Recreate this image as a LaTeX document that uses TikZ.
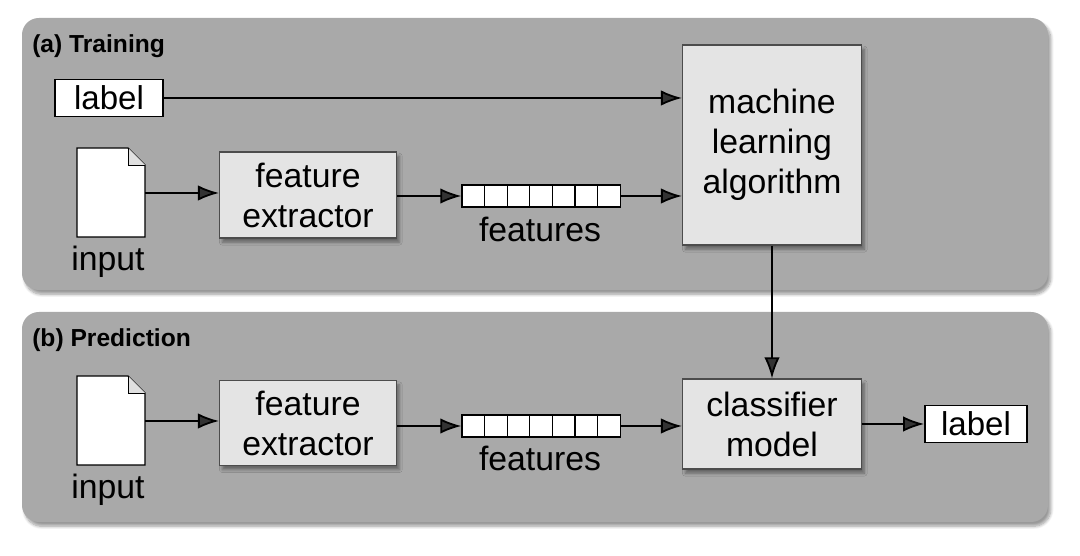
\documentclass[tikz,border=0pt]{standalone}
\usepackage{fontspec}
\setmainfont{Liberation Sans}
\usetikzlibrary{shadows.blur,arrows.meta}
\definecolor{panel}{HTML}{A9A9A9}
\definecolor{boxf}{HTML}{E4E4E4}
\begin{document}
\begin{tikzpicture}[x=0.025cm,y=-0.025cm,
 panel/.style={fill=panel,rounded corners=12pt,blur shadow={shadow xshift=2pt,shadow yshift=-3pt,shadow blur steps=8}},
 box/.style={draw=black!70,fill=boxf,line width=0.8pt,blur shadow={shadow xshift=2pt,shadow yshift=-3pt},inner sep=0pt,align=center,font=\fontsize{24}{28.5}\selectfont},
 lab/.style={draw=black,fill=white,line width=1.2pt,inner sep=0pt,font=\fontsize{23.5}{28}\selectfont},
 txt/.style={font=\fontsize{24}{28}\selectfont,inner sep=0pt},
 ttl/.style={font=\bfseries\fontsize{17.5}{20}\selectfont,anchor=west,inner sep=0pt},
 arr/.style={line width=1.3pt,-{Latex[length=15pt,width=11pt]}},
 cell/.style={draw=black,fill=white,line width=0.9pt,minimum width=0.565cm,minimum height=0.55cm,inner sep=0pt}]
\useasboundingbox (0,0) rectangle (1080,556);
\fill[panel] (22,18) rectangle (1048,290);
\fill[panel] (22,312) rectangle (1048,522);
\node[ttl] (ta) at (32,46) {(a) Training};
\node[ttl] (tb) at (32,340) {(b) Prediction};
\node[lab,minimum width=2.7cm,minimum height=0.92cm] (l1) at (109,98) {label};
\node[box,minimum width=4.47cm,minimum height=5cm] (ml) at (772,145) {machine\\learning\\algorithm};
\node[box,minimum width=4.42cm,minimum height=2.15cm] (fe1) at (308,195) {feature\\extractor};
\node[box,minimum width=4.47cm,minimum height=2.25cm] (cl) at (772,424) {classifier\\model};
\node[box,minimum width=4.42cm,minimum height=2.12cm] (fe2) at (308,423) {feature\\extractor};
\node[lab,minimum width=2.55cm,minimum height=0.92cm] (l2) at (976,424) {label};
\foreach \n/\y in {d1/148,d2/376}{
 \fill[white,draw=black,line width=0.8pt] (77,\y) -- (128,\y) -- (145,\y+17) -- (145,\y+89) -- (77,\y+89) -- cycle;
 \fill[black!12,draw=black,line width=0.6pt] (128,\y) -- (128,\y+17) -- (145,\y+17);
 \coordinate (\n) at (145,\y+45);
}
\node[txt] (in1) at (108,262) {input};
\node[txt] (in2) at (108,490) {input};
\foreach \n/\y in {f1/196,f2/426}{
 \foreach \i in {0,...,6}{\node[cell] (\n c\i) at (473.3+\i*22.6,\y) {};}
}
\node[txt] (fl1) at (540,229) {features};
\node[txt] (fl2) at (540,458) {features};
\draw[arr] (l1) -- (l1 -| ml.west);
\draw[arr] (d1) -- (d1 -| fe1.west);
\draw[arr] (fe1.east |- f1c0) -- (f1c0);
\draw[arr] (f1c6) -- (f1c6 -| ml.west);
\draw[arr] (ml) -- (cl);
\draw[arr] (d2) -- (d2 -| fe2.west);
\draw[arr] (fe2.east |- f2c0) -- (f2c0);
\draw[arr] (f2c6) -- (f2c6 -| cl.west);
\draw[arr] (cl) -- (l2);
\end{tikzpicture}
\end{document}
